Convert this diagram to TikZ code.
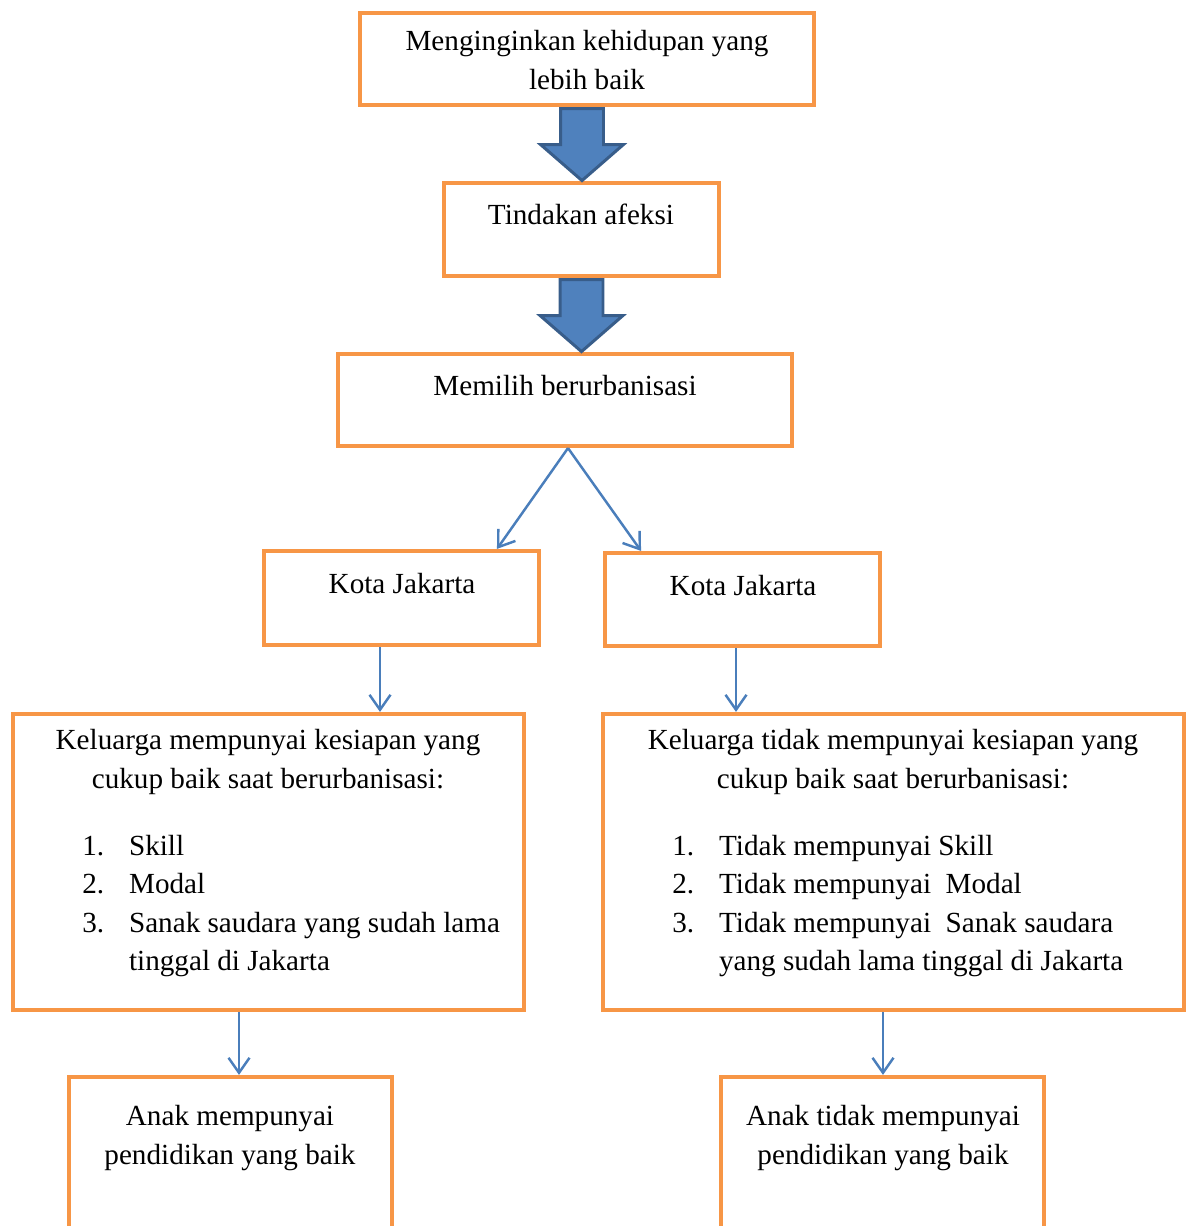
\documentclass[tikz,border=0pt]{standalone}
\usepackage{fontspec}
\setmainfont{Liberation Serif}
\usetikzlibrary{shapes.arrows,arrows.meta,calc}
\definecolor{boxorange}{HTML}{F79646}
\definecolor{arrowblue}{HTML}{4F81BD}
\definecolor{arrowedge}{HTML}{385D8A}
\definecolor{lineblue}{HTML}{4A7EBB}
\newcommand{\nr}[1]{\makebox[26.6pt][l]{#1}}

\begin{document}
\begin{tikzpicture}[x=0.02cm,y=-0.02cm,
    box/.style={draw=boxorange,line width=2.4pt,minimum width=#1},
    txt/.style={inner sep=0pt,align=center,font=\fontsize{16.6}{21.9}\selectfont},
    lst/.style={txt,align=left,anchor=west},
    bigarrow/.style={single arrow,rotate=-90,anchor=tail,draw=arrowedge,fill=arrowblue,line width=1.7pt,
      inner xsep=0pt,inner ysep=0.4cm,single arrow head extend=0.4cm,
      single arrow tip angle=98,minimum height=1.44cm},
    link/.style={draw=lineblue,line width=1.4pt,-{Straight Barb[length=0.3cm,width=0.42cm]}}]
  \clip (0,0) rectangle (1188,1226);

  \node[box=9.08cm,minimum height=1.84cm] (want) at (587,59) {};
  \node[txt] (wantT) at (587,60) {Menginginkan kehidupan yang\\lebih baik};
  \node[box=5.5cm,minimum height=1.86cm] (afeksi) at (581.5,229.5) {};
  \node[txt] (afeksiT) at (581,214) {Tindakan afeksi};
  \node[box=9.08cm,minimum height=1.84cm] (urban) at (565,400) {};
  \node[txt] (urbanT) at (565,386) {Memilih berurbanisasi};

  \node[box=5.5cm,minimum height=1.88cm] (kotaL) at (401.5,598) {};
  \node[txt] (kotaLT) at (402,584) {Kota Jakarta};
  \node[box=5.5cm,minimum height=1.86cm] (kotaR) at (742.5,599.5) {};
  \node[txt] (kotaRT) at (743,586) {Kota Jakarta};

  \node[box=10.22cm,minimum height=5.92cm] (siapL) at (268.5,862) {};
  \node[txt] (siapLT) at (268,762) {Keluarga mempunyai kesiapan yang\\cukup baik saat berurbanisasi:};
  \node[lst] (siapLL) at (82,906) {\nr{1.}Skill\\\nr{2.}Modal\\
    \nr{3.}Sanak saudara yang sudah lama\\\nr{}tinggal di Jakarta};
  \node[box=11.62cm,minimum height=5.92cm] (siapR) at (893.5,862) {};
  \node[txt] (siapRT) at (893,762) {Keluarga tidak mempunyai kesiapan yang\\cukup baik saat berurbanisasi:};
  \node[lst] (siapRL) at (672,906) {\nr{1.}Tidak mempunyai Skill\\\nr{2.}Tidak mempunyai~ Modal\\
    \nr{3.}Tidak mempunyai~ Sanak saudara\\\nr{}yang sudah lama tinggal di Jakarta};

  \node[box=6.46cm,minimum height=4.46cm] (anakL) at (230.5,1188.5) {};
  \node[txt] (anakLT) at (230,1138) {Anak mempunyai\\pendidikan yang baik};
  \node[box=6.46cm,minimum height=4.46cm] (anakR) at (882.5,1188.5) {};
  \node[txt] (anakRT) at (883,1138) {Anak tidak mempunyai\\pendidikan yang baik};

  \node[bigarrow] (arrow1) at ([xshift=-0.1cm]want.south) {};
  \node[bigarrow] (arrow2) at (afeksi.south) {};

  \draw[link] ([xshift=0.06cm]urban.south) -- ([xshift=1.91cm]kotaL.north);
  \draw[link] ([xshift=0.06cm]urban.south) -- ([xshift=-2.03cm]kotaR.north);
  \draw[link] ([xshift=-0.43cm]kotaL.south) -- ([xshift=-0.43cm]kotaL.south |- siapL.north);
  \draw[link] ([xshift=-0.13cm]kotaR.south) -- ([xshift=-0.13cm]kotaR.south |- siapR.north);
  \draw[link] ([xshift=-0.59cm]siapL.south) -- ([xshift=-0.59cm]siapL.south |- anakL.north);
  \draw[link] ([xshift=-0.21cm]siapR.south) -- ([xshift=-0.21cm]siapR.south |- anakR.north);
\end{tikzpicture}
\end{document}
